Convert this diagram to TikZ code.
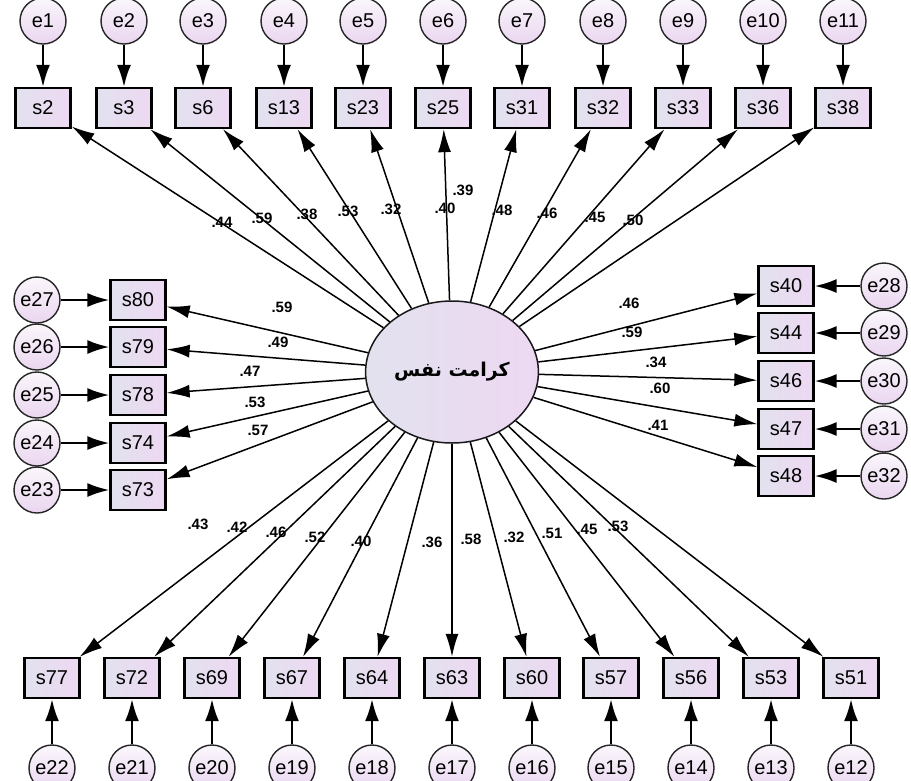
\documentclass[tikz,border=0pt]{standalone}
\usepackage{fontspec}
\setmainfont{Liberation Sans}
\newfontfamily\arabicfont[Script=Arabic]{DejaVu Sans}
\TeXXeTstate=1
\usetikzlibrary{arrows.meta,shapes.geometric}
\definecolor{boxL}{HTML}{E2E2EE}
\definecolor{boxR}{HTML}{EDD8F2}
\definecolor{errT}{HTML}{FAF6FB}
\definecolor{errB}{HTML}{EAD6F0}
\tikzset{
  obs/.style={draw=black, line width=2.3pt, minimum width=55pt, minimum height=40pt,
    inner sep=0pt, left color=boxL, right color=boxR, font=\fontsize{20}{22}\selectfont},
  errc/.style={circle, draw=black!85, line width=1.4pt, minimum size=46pt, inner sep=0pt,
    top color=errT, bottom color=errB, font=\fontsize{20}{22}\selectfont},
  ld/.style={-{Latex[length=23pt,width=13pt]}, line width=1.5pt},
  ea/.style={-{Latex[length=22pt,width=14pt]}, line width=2.3pt},
  lab/.style={font=\bfseries\fontsize{15}{17}\selectfont, inner sep=0pt}
}
\begin{document}
\begin{tikzpicture}[x=1pt,y=-1pt]
\useasboundingbox[fill=white] (0,0) rectangle (911,780);
\node[ellipse, draw=black!90, line width=1.5pt, minimum width=170pt, minimum height=142pt,
  left color=boxL, right color=boxR] (F) at (452,372)
  {\arabicfont\bfseries\fontsize{19}{22}\selectfont\beginR کرامت نفس\endR};
% top
\foreach \n/\x/\e in {s2/43/e1, s3/124/e2, s6/203/e3, s13/284/e4, s23/363/e5, s25/443/e6,
  s31/522/e7, s32/603/e8, s33/683/e9, s36/763/e10, s38/843/e11} {
  \node[obs] (\n) at (\x,108) {\n};
  \node[errc] (\e) at (\x,21) {\e};
  \draw[ea] (\e) -- (\n);
  \draw[ld] (F) -- (\n);
}
% bottom
\foreach \n/\x/\e in {s77/52/e22, s72/132/e21, s69/212/e20, s67/292/e19, s64/372/e18,
  s63/452/e17, s60/532/e16, s57/611/e15, s56/691/e14, s53/771/e13, s51/851/e12} {
  \node[obs] (\n) at (\x,678) {\n};
  \node[errc] (\e) at (\x,768) {\e};
  \draw[ea] (\e) -- (\n);
  \draw[ld] (F) -- (\n);
}
% left
\foreach \n/\y/\e in {s80/300/e27, s79/347/e26, s78/395/e25, s74/443/e24, s73/490/e23} {
  \node[obs] (\n) at (138,\y) {\n};
  \node[errc] (\e) at (37,\y) {\e};
  \draw[ea] (\e) -- (\n);
  \draw[ld] (F) -- (\n);
}
% right
\foreach \n/\y/\e in {s40/286/e28, s44/333/e29, s46/381/e30, s47/429/e31, s48/476/e32} {
  \node[obs] (\n) at (786,\y) {\n};
  \node[errc] (\e) at (884,\y) {\e};
  \draw[ea] (\e) -- (\n);
  \draw[ld] (F) -- (\n);
}
% loading labels top
\node[lab] (t1) at (222,222) {.44};
\node[lab] (t2) at (262,218) {.59};
\node[lab] (t3) at (307,214) {.38};
\node[lab] (t4) at (348,211) {.53};
\node[lab] (t5) at (391,209) {.32};
\node[lab] (t6) at (445,208) {.40};
\node[lab] (t7) at (463,190) {.39};
\node[lab] (t8) at (502,210) {.48};
\node[lab] (t9) at (547,213) {.46};
\node[lab] (t10) at (595,217) {.45};
\node[lab] (t11) at (633,220) {.50};
% bottom
\node[lab] (b1) at (198,524) {.43};
\node[lab] (b2) at (237,527) {.42};
\node[lab] (b3) at (276,532) {.46};
\node[lab] (b4) at (315,537) {.52};
\node[lab] (b5) at (361,541) {.40};
\node[lab] (b6) at (432,542) {.36};
\node[lab] (b7) at (471,539) {.58};
\node[lab] (b8) at (514,537) {.32};
\node[lab] (b9) at (552,533) {.51};
\node[lab] (b10) at (587,529) {.45};
\node[lab] (b11) at (618,526) {.53};
% left
\node[lab] (l1) at (282,307) {.59};
\node[lab] (l2) at (278,342) {.49};
\node[lab] (l3) at (250,371) {.47};
\node[lab] (l4) at (255,402) {.53};
\node[lab] (l5) at (258,430) {.57};
% right
\node[lab] (r1) at (629,303) {.46};
\node[lab] (r2) at (632,332) {.59};
\node[lab] (r3) at (656,362) {.34};
\node[lab] (r4) at (660,388) {.60};
\node[lab] (r5) at (658,425) {.41};
\end{tikzpicture}
\end{document}
